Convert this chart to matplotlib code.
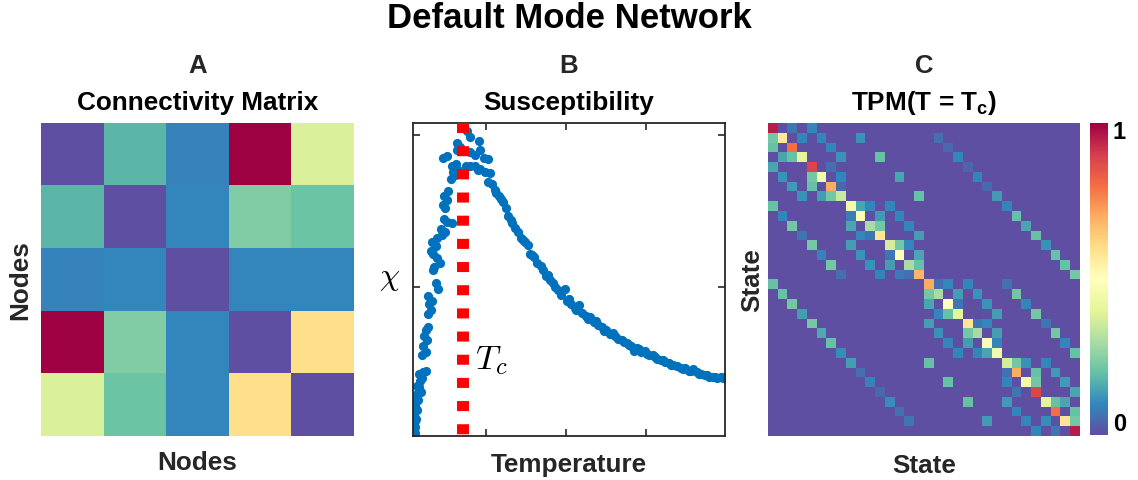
import matplotlib
matplotlib.use('Agg')
import matplotlib.pyplot as plt
import numpy as np

plt.rcParams['font.family'] = ['Liberation Sans', 'DejaVu Sans']
plt.rcParams['font.weight'] = 'bold'
plt.rcParams['mathtext.fontset'] = 'custom'
plt.rcParams['mathtext.rm'] = 'Liberation Sans:bold'
plt.rcParams['mathtext.bf'] = 'Liberation Sans:bold'
plt.rcParams['mathtext.it'] = 'Liberation Sans:bold'

# ---- data ----
# A: connectivity between the 5 nodes (normalised)
conn = [
    [0.00, 0.18, 0.09, 1.00, 0.38],
    [0.18, 0.00, 0.10, 0.24, 0.21],
    [0.09, 0.10, 0.00, 0.10, 0.10],
    [1.00, 0.24, 0.10, 0.00, 0.60],
    [0.38, 0.21, 0.10, 0.60, 0.00],
]

# B: susceptibility vs temperature
temp = [0.09, 0.10, 0.11, 0.09, 0.13, 0.10, 0.14, 0.11, 0.15, 0.13, 0.16, 0.19, 0.14, 0.18, 0.20,
        0.16, 0.21, 0.25, 0.10, 0.12, 0.11, 0.13, 0.12, 0.15, 0.17,
        0.20, 0.25, 0.21, 0.26, 0.23, 0.25, 0.28, 0.28, 0.31, 0.29, 0.33, 0.28, 0.40, 0.38,
        0.34, 0.35, 0.43, 0.39, 0.34, 0.31, 0.38, 0.33, 0.39, 0.45, 0.49, 0.44, 0.51, 0.48,
        0.58, 0.49, 0.46, 0.51, 0.48, 0.53, 0.56, 0.61, 0.59, 0.65, 0.58, 0.63, 0.46, 0.51,
        0.64, 0.68, 0.64, 0.71, 0.76, 0.80, 0.91, 0.80, 0.86, 0.93, 0.98, 1.03, 0.75, 0.80,
        0.86, 0.93, 0.99, 1.05, 0.90, 1.03, 1.08, 1.11, 1.16, 1.21, 1.25, 1.28, 1.31, 1.36,
        1.40, 1.44, 1.49, 1.53, 1.55, 1.60, 1.64, 1.69, 1.75, 1.80, 1.84, 1.90, 1.94, 1.99,
        2.01, 2.06, 2.11, 2.16, 2.20, 2.25, 2.30, 2.35, 2.40, 2.45, 2.50, 2.55, 2.59, 2.65,
        2.70, 2.76, 2.81, 2.85, 2.89, 2.94, 2.99, 3.04, 3.09, 3.14, 3.19, 3.24, 3.29, 3.34,
        3.39, 3.44, 3.49, 3.54, 3.59, 3.64, 3.69, 3.74, 3.79, 3.84, 3.89, 3.94, 3.99,
        1.13, 1.19, 1.33, 1.46, 1.58, 1.72, 1.78, 1.87, 2.04, 2.13, 2.28, 2.38, 2.48, 2.62,
        2.73, 2.79, 2.92, 3.02, 3.12, 3.22, 3.32, 3.47, 3.57, 3.67, 3.77, 3.87, 3.97]
chi = [0.02, 0.06, 0.04, 0.09, 0.13, 0.16, 0.19, 0.22, 0.26, 0.29, 0.32, 0.31, 0.35, 0.38, 0.40,
       0.43, 0.44, 0.45, 0.03, 0.08, 0.12, 0.20, 0.24, 0.30, 0.34,
       0.55, 0.57, 0.61, 0.65, 0.68, 0.72, 0.74, 0.82, 0.85, 0.89, 0.91, 0.94, 0.99, 1.03,
       1.11, 1.13, 1.16, 1.19, 1.22, 1.24, 1.27, 1.30, 1.32, 1.34, 1.36, 1.38, 1.43, 1.45,
       1.42, 1.52, 1.54, 1.57, 1.60, 1.63, 1.71, 1.74, 1.76, 1.77, 1.80, 1.81, 1.85, 1.86,
       1.90, 1.92, 1.95, 2.08, 2.03, 1.99, 1.96, 1.89, 1.87, 1.90, 1.85, 1.84, 1.80, 1.80,
       1.80, 1.78, 1.76, 1.75, 1.77, 1.69, 1.68, 1.64, 1.60, 1.56, 1.52, 1.47, 1.44, 1.39,
       1.36, 1.32, 1.30, 1.28, 1.22, 1.20, 1.16, 1.14, 1.07, 1.05, 1.03, 0.98, 0.95, 0.99,
       0.91, 0.89, 0.86, 0.88, 0.83, 0.81, 0.80, 0.77, 0.75, 0.74, 0.72, 0.69, 0.70, 0.66,
       0.65, 0.63, 0.61, 0.58, 0.60, 0.57, 0.58, 0.55, 0.55, 0.53, 0.52, 0.51, 0.50, 0.49,
       0.48, 0.47, 0.47, 0.45, 0.46, 0.44, 0.43, 0.42, 0.41, 0.41, 0.40, 0.41, 0.41,
       1.62, 1.58, 1.42, 1.31, 1.21, 1.11, 1.08, 1.00, 0.92, 0.85, 0.79, 0.78, 0.71, 0.68,
       0.64, 0.62, 0.59, 0.56, 0.54, 0.52, 0.49, 0.46, 0.45, 0.43, 0.42, 0.41, 0.40]
tc = 0.71

# C: transition probabilities, per state:
# [stay, flip bit0, flip bit1, flip bit2, flip bit3, flip bit4]
tpm_rows = [
    [0.95, 0.00, 0.07, 0.10, 0.00, 0.00],
    [0.57, 0.22, 0.10, 0.10, 0.12, 0.06],
    [0.80, 0.00, 0.20, 0.10, 0.00, 0.05],
    [0.40, 0.20, 0.15, 0.12, 0.20, 0.10],
    [0.88, 0.00, 0.06, 0.15, 0.00, 0.04],
    [0.45, 0.22, 0.10, 0.12, 0.15, 0.10],
    [0.70, 0.04, 0.20, 0.13, 0.00, 0.05],
    [0.35, 0.22, 0.14, 0.12, 0.20, 0.13],
    [0.45, 0.15, 0.10, 0.10, 0.20, 0.10],
    [0.48, 0.08, 0.13, 0.10, 0.10, 0.20],
    [0.30, 0.22, 0.15, 0.10, 0.22, 0.15],
    [0.58, 0.07, 0.10, 0.14, 0.07, 0.20],
    [0.37, 0.22, 0.10, 0.14, 0.22, 0.12],
    [0.48, 0.07, 0.15, 0.12, 0.09, 0.20],
    [0.30, 0.20, 0.14, 0.12, 0.22, 0.20],
    [0.68, 0.06, 0.08, 0.10, 0.06, 0.22],
    [0.70, 0.06, 0.10, 0.10, 0.06, 0.20],
    [0.30, 0.22, 0.14, 0.12, 0.22, 0.20],
    [0.50, 0.07, 0.15, 0.12, 0.10, 0.22],
    [0.40, 0.20, 0.10, 0.14, 0.22, 0.14],
    [0.58, 0.07, 0.10, 0.14, 0.07, 0.22],
    [0.30, 0.22, 0.14, 0.12, 0.22, 0.16],
    [0.48, 0.09, 0.14, 0.10, 0.10, 0.20],
    [0.45, 0.15, 0.10, 0.10, 0.20, 0.11],
    [0.37, 0.22, 0.12, 0.10, 0.20, 0.14],
    [0.70, 0.06, 0.20, 0.13, 0.00, 0.06],
    [0.45, 0.22, 0.10, 0.13, 0.20, 0.09],
    [0.88, 0.00, 0.07, 0.15, 0.00, 0.05],
    [0.40, 0.20, 0.15, 0.13, 0.20, 0.11],
    [0.80, 0.00, 0.20, 0.10, 0.00, 0.06],
    [0.58, 0.22, 0.11, 0.10, 0.13, 0.07],
    [0.95, 0.00, 0.07, 0.10, 0.00, 0.00],
]

n_states = len(tpm_rows)
tpm = np.zeros((n_states, n_states))
for i, row in enumerate(tpm_rows):
    tpm[i, i] = row[0]
    for k in range(5):
        tpm[i, i ^ (1 << k)] = row[k + 1]

cmap = plt.get_cmap('Spectral_r')
W, H = 1138, 480

def box(x0, y0, x1, y1):
    # pixel box (top-left origin) -> figure fraction rect
    return [x0 / W, (H - y1) / H, (x1 - x0) / W, (y1 - y0) / H]

fig = plt.figure(figsize=(W / 100, H / 100), dpi=100)

fig.text(0.5, (H - 18) / H, 'Default Mode Network', ha='center', va='center',
         fontsize=25, fontweight='bold')

# panel A
axA = fig.add_axes(box(41, 123, 353, 436))
axA.imshow(conn, cmap=cmap, vmin=0, vmax=1, aspect='auto', interpolation='nearest')
axA.set_xticks([])
axA.set_yticks([])
for s in axA.spines.values():
    s.set_visible(False)

# panel B
axB = fig.add_axes(box(413, 123, 725, 436))
axB.scatter(temp, chi, s=44, color='#0072BD', linewidths=0, zorder=2)
axB.plot([tc, tc], [2.08, 0.02], color='red', lw=8.6, linestyle=(0, (0.84, 1.1)),
         dash_capstyle='butt', zorder=3)
axB.set_xlim(0.09, 3.99)
axB.set_ylim(0.02, 2.08)
axB.set_xticks([1, 2, 3])
axB.set_yticks([1, 2])
axB.tick_params(direction='in', top=True, right=True, labelbottom=False, labelleft=False,
                length=5, width=1.2, color='#262626')
for s in axB.spines.values():
    s.set_linewidth(1.3)
    s.set_color('#262626')
axB.text(0.87, 0.52, r'$T_c$', fontsize=25, math_fontfamily='cm', ha='left', va='center')

# panel C
axC = fig.add_axes(box(768, 123, 1080, 436))
im = axC.imshow(tpm, cmap=cmap, vmin=0, vmax=1, aspect='auto', interpolation='nearest')
axC.set_xticks([])
axC.set_yticks([])
for s in axC.spines.values():
    s.set_visible(False)

cax = fig.add_axes(box(1090, 123, 1108, 435))
cb = fig.colorbar(im, cax=cax)
cb.set_ticks([])
cb.outline.set_visible(False)
fig.text(1113 / W, (H - 121) / H, '1', ha='left', va='top', fontsize=17, fontweight='bold')
fig.text(1113 / W, (H - 436) / H, '0', ha='left', va='bottom', fontsize=17, fontweight='bold')

# titles and labels
for cx, letter, title in [(198, 'A', 'Connectivity Matrix'), (569, 'B', 'Susceptibility'),
                          (924, 'C', r'TPM(T = T$_\mathbf{c}$)')]:
    fig.text(cx / W, (H - 66) / H, letter, ha='center', va='center', fontsize=18.5,
             color='#262626')
    fig.text(cx / W, (H - 103) / H, title, ha='center', va='center', fontsize=18.8)

fig.text(197 / W, (H - 463) / H, 'Nodes', ha='center', va='center', fontsize=18.8,
         color='#262626')
fig.text(20 / W, (H - 280) / H, 'Nodes', ha='center', va='center', fontsize=18.8, rotation=90,
         color='#262626')
fig.text(569 / W, (H - 465) / H, 'Temperature', ha='center', va='center', fontsize=18.8,
         color='#262626')
fig.text(390 / W, (H - 278) / H, r'$\chi$', ha='center', va='center', fontsize=23,
         math_fontfamily='cm')
fig.text(924 / W, (H - 466) / H, 'State', ha='center', va='center', fontsize=18.8,
         color='#262626')
fig.text(752 / W, (H - 280) / H, 'State', ha='center', va='center', fontsize=18.8, rotation=90,
         color='#262626')

fig.savefig('out.png', dpi=100)
